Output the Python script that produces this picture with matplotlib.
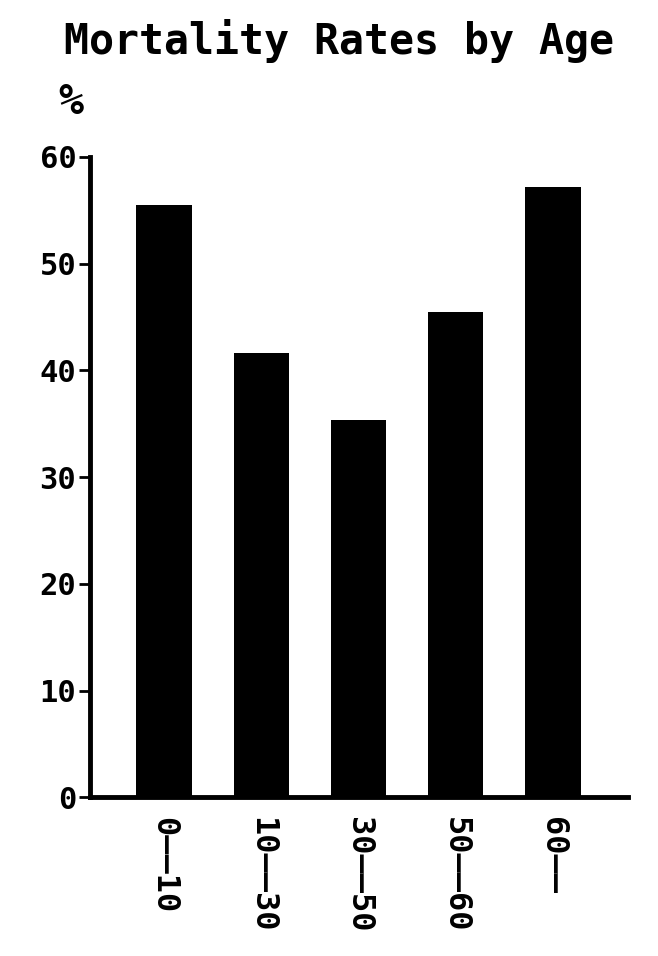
import numpy as np
import matplotlib.pyplot as plt

# Data
age_groups = ['0\u2014\u201410', '10\u2014\u201430', '30\u2014\u201450', '50\u2014\u201460', '60\u2014\u2014']
mortality = [55.5, 41.6, 35.3, 45.5, 57.2]   # percent
yticks = [0, 10, 20, 30, 40, 50, 60]

plt.rcParams.update({
    'font.family': ['DejaVu Sans Mono', 'DejaVu Sans'],
    'font.weight': 'bold',
})

fig = plt.figure(figsize=(6.58, 9.56), dpi=100)
ax = fig.add_axes([0.137, 0.166, 0.817, 0.670])

x = np.arange(len(age_groups))
ax.bar(x, mortality, width=0.57, color='black')

ax.set_xlim(-0.76, 4.77)
ax.set_ylim(0, 60)
ax.set_yticks(yticks)
ax.set_yticklabels([str(t) for t in yticks], fontsize=22)
ax.set_xticks(x)
ax.set_xticklabels(age_groups, rotation=-90, fontsize=23, va='top', ha='center')
ax.tick_params(axis='x', length=0, pad=14)
ax.tick_params(axis='y', length=8, width=2, direction='out', pad=2)

for s in ['top', 'right']:
    ax.spines[s].set_visible(False)
for s in ['left', 'bottom']:
    ax.spines[s].set_linewidth(3.5)

fig.text(0.515, 0.957, 'Mortality Rates by Age', ha='center', va='center',
         fontsize=30, fontweight='bold')
fig.text(0.107, 0.893, '%', ha='center', va='center', fontsize=30,
         fontweight='bold', style='italic')

plt.savefig('out.png', dpi=100)
